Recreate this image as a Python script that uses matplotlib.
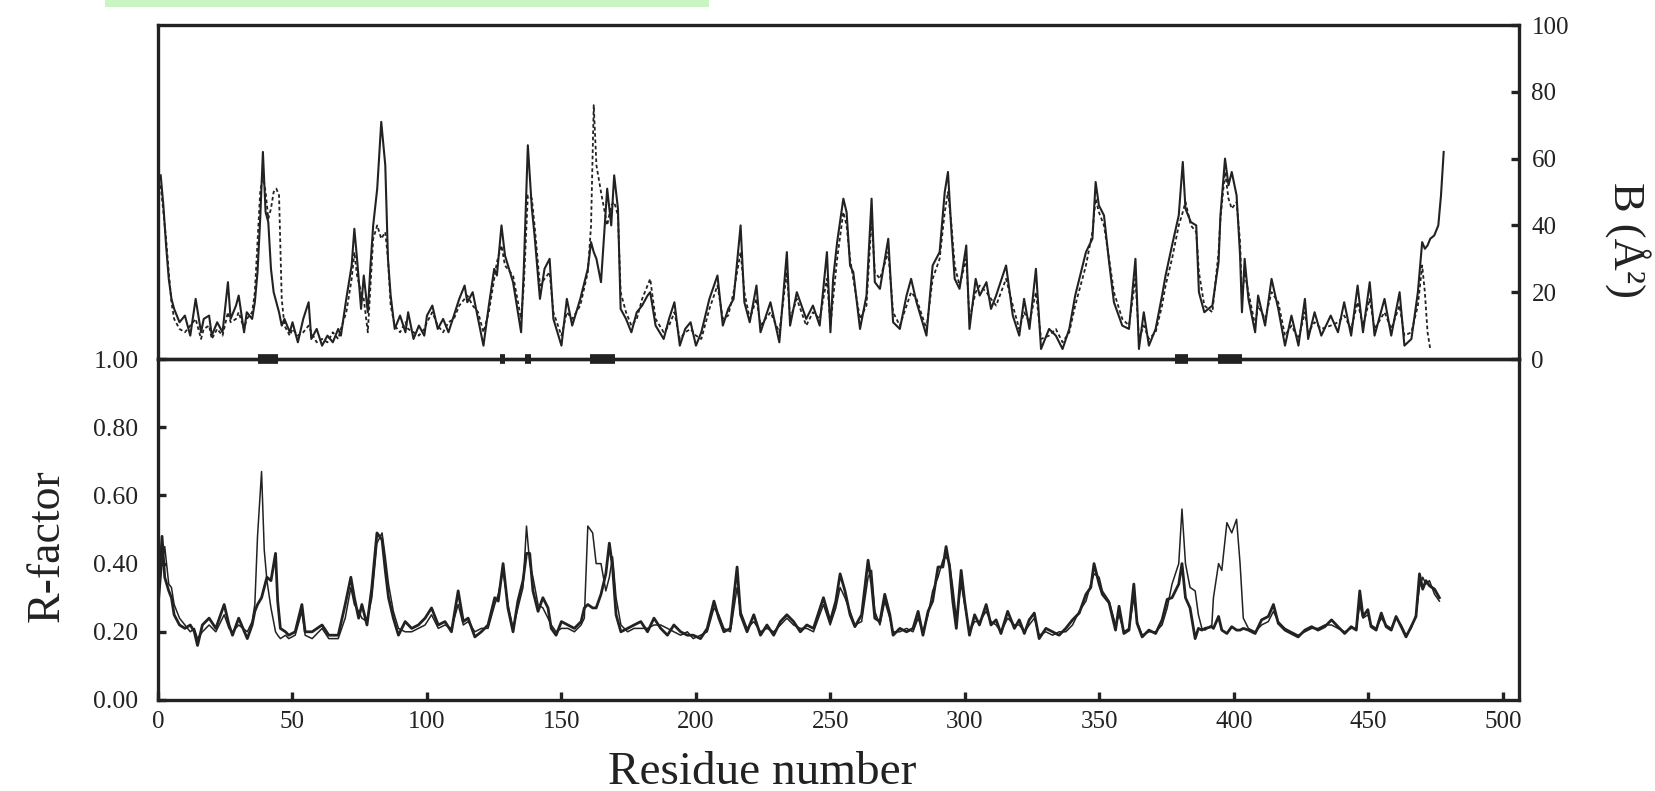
import matplotlib
matplotlib.use("Agg")
import matplotlib.pyplot as plt
from matplotlib.patches import Rectangle

# ---------------- data ----------------
# Upper panel: B-factor (Å^2) vs residue, two series (solid, dotted)
b_res = [1, 2, 3, 4, 5, 6, 8, 10, 12, 14, 16, 17, 19, 20, 22, 24, 26, 27, 29, 30,
         32, 33, 35, 36, 37, 38, 39, 40, 41, 42, 43, 44, 45, 46, 47, 49, 50, 52, 54, 56,
         57, 59, 61, 63, 65, 67, 68, 70, 72, 73, 74, 75.5, 76.5, 78, 79, 80, 81.5, 83, 84.5, 85.5,
         86.5, 88, 90, 92, 93, 95, 97, 99, 100, 102, 104, 106, 108, 110, 112, 114, 115, 117, 119, 121,
         123, 125, 126, 127.7, 129, 132, 135, 136, 137.5, 139, 140, 142, 143.7, 145.6, 147, 150, 152, 154, 157, 159.8,
         161, 162, 163, 164.7, 167, 168.5, 169.6, 171, 172, 174, 176, 178, 180, 182, 183, 185, 188, 190, 192, 194,
         196, 198, 200, 202, 205, 208, 210, 212, 214, 216.6, 218, 220, 222.5, 224, 227.7, 231, 233.8, 235, 237.5, 241,
         243.5, 246, 248.7, 250, 251, 252.5, 254.8, 256, 257.3, 258.5, 261, 263.4, 265.3, 266.5, 268.4, 271.5, 273.3, 275.8, 278.3, 280,
         282, 285.7, 288, 290.6, 292.5, 293.7, 295, 296.2, 298, 300.5, 301.7, 304, 305.5, 308, 309.7, 311.6, 315.3, 317.8, 320.2, 322,
         324, 326.4, 328.3, 331.3, 333.8, 336.3, 338.8, 341, 345, 347.4, 348.6, 349.8, 351.7, 353.6, 355.4, 358.5, 361, 363.4, 364.7, 366.5,
         368.4, 370.9, 373.3, 374.6, 377, 379.5, 381, 382, 384, 386, 387, 389, 392, 394.3, 395, 396.7, 398, 399.2, 401, 402.3,
         403, 404, 405.4, 407.9, 409, 411.6, 414, 416.5, 419, 421.4, 424, 426.4, 427.6, 430, 432.5, 436, 438.7, 441, 443.6, 446,
         448, 450.5, 452.3, 456, 458.5, 461.6, 463.4, 466, 468.4, 470, 471, 472, 473, 474.5, 476, 477, 478]

b_solid = [55, 46, 34, 24, 18, 15, 11, 13, 7, 18, 8, 12, 13, 7, 11, 8, 23, 12, 16, 19,
           8, 14, 12, 17, 26, 42, 62, 44, 41, 27, 20, 17, 14, 10, 12, 8, 11, 5, 12, 17,
           6, 9, 4, 7, 5, 9, 7, 18, 28, 39, 30, 15, 25, 14, 28, 40, 51, 71, 58, 30,
           19, 9, 13, 8, 14, 6, 10, 7, 13, 16, 9, 12, 8, 13, 18, 22, 17, 20, 12, 4,
           16, 27, 25, 40, 31, 23, 8, 27, 64, 45, 37, 18, 27, 30, 12, 4, 18, 10, 18, 27,
           35, 32, 30, 23, 51, 40, 55, 45, 15, 12, 8, 14, 16, 19, 20, 10, 6, 12, 17, 4,
           9, 11, 4, 8, 18, 25, 10, 15, 18, 40, 17, 11, 22, 8, 17, 5, 32, 10, 20, 12,
           16, 10, 32, 8, 24, 35, 48, 44, 28, 26, 9, 19, 48, 23, 21, 36, 11, 9, 19, 24,
           17, 7, 28, 32, 50, 56, 38, 24, 21, 34, 9, 24, 19, 23, 15, 19, 28, 13, 7, 18,
           9, 27, 3, 9, 7, 3, 9, 19, 32, 36, 53, 46, 43, 29, 17, 10, 9, 30, 3, 14,
           4, 9, 19, 25, 34, 43, 59, 45, 41, 40, 20, 14, 16, 29, 43, 60, 52, 56, 49, 31,
           14, 30, 18, 8, 19, 10, 24, 15, 4, 13, 4, 18, 6, 14, 7, 13, 8, 17, 7, 22,
           8, 23, 7, 18, 7, 20, 4, 6, 20, 35, 33, 34, 36, 37, 40, 49, 62]

b_dotted = [52, 44, 36, 26, 17, 12, 9, 8, 10, 12, 6, 9, 10, 6, 9, 7, 14, 11, 12, 14,
            9, 12, 14, 20, 35, 50, 55, 50, 42, 45, 50, 51, 49, 18, 10, 7, 9, 7, 8, 10,
            8, 5, 6, 5, 8, 6, 9, 14, 24, 32, 25, 20, 18, 8, 22, 36, 40, 36, 38, 30,
            16, 10, 8, 11, 9, 8, 7, 9, 11, 14, 10, 8, 11, 12, 16, 18, 19, 16, 14, 8,
            14, 24, 29, 34, 28, 25, 12, 22, 49, 48, 40, 22, 24, 26, 14, 7, 14, 12, 16, 26,
            40, 76, 58, 50, 40, 46, 47, 43, 20, 14, 10, 12, 18, 22, 24, 12, 8, 10, 14, 6,
            8, 9, 7, 6, 15, 22, 12, 13, 20, 32, 20, 12, 18, 10, 14, 8, 26, 12, 18, 10,
            14, 12, 24, 10, 18, 30, 44, 40, 30, 24, 12, 16, 42, 26, 24, 32, 14, 10, 16, 20,
            18, 9, 24, 30, 44, 50, 40, 28, 22, 30, 12, 20, 22, 20, 18, 16, 24, 16, 9, 14,
            11, 20, 6, 7, 9, 5, 8, 16, 28, 38, 48, 44, 40, 30, 20, 12, 10, 24, 6, 10,
            6, 8, 16, 22, 30, 40, 44, 47, 40, 38, 26, 16, 14, 32, 42, 56, 48, 45, 47, 35,
            18, 26, 20, 10, 16, 12, 20, 17, 7, 10, 6, 14, 8, 11, 9, 10, 11, 13, 9, 17,
            10, 18, 9, 14, 9, 16, 7, 8, 16, 28, 20, 8, 3]

# Lower panel: R-factor vs residue, two series (heavy, light)
r_res = [0.5, 1.5, 2.5, 4, 5, 6, 8, 10, 12, 13.5, 14.7, 16.5, 19, 21.5, 24.6, 26.4, 27.7, 30, 33.2, 35,
         36, 37, 38.5, 39.5, 40.5, 42, 43.7, 44.5, 45.5, 47.4, 48.6, 51, 53.5, 54.7, 57.3, 61, 63.5, 67, 69.6, 71.7,
         73, 74.6, 75.8, 77.7, 79.5, 81.4, 83.3, 84.5, 85.7, 87.5, 89.4, 91.9, 94.3, 96.8, 99.3, 101.7, 104.2, 106.7, 109.1, 111.6,
         113.5, 115.3, 117.8, 120.2, 122.7, 125.2, 126.5, 128.3, 130.1, 132, 133.8, 135.7, 137, 138.2, 139.4, 141.3, 143.1, 145, 146.2, 148,
         150, 152.4, 154.8, 157.3, 158.5, 159.8, 161.6, 162.9, 164.7, 166.5, 167.8, 169, 170.3, 172.1, 174.6, 177, 179.5, 182, 184.4, 186.9,
         189.4, 191.8, 194.3, 196.8, 199, 201.7, 204.2, 206.7, 208.5, 210.4, 212.8, 215.3, 216.6, 219, 221.5, 224, 226.4, 228.9, 231.4, 233.8,
         236.3, 238.8, 241.2, 243.7, 247.4, 249.9, 252, 253.6, 255.4, 257.3, 259.1, 261.6, 264, 265.3, 266.5, 268.4, 270.2, 272.1, 273.3, 275.8,
         278.3, 280.7, 282.6, 284.4, 286.3, 288, 290, 291.8, 293, 294.3, 295.5, 296.8, 298.6, 299.9, 301.7, 303.6, 305.4, 307.9, 309.7, 311.6,
         313.4, 315.9, 318.4, 320.2, 322.1, 323.9, 325.8, 327.6, 330.1, 332.6, 335, 337.5, 340, 342.5, 345, 346.8, 348, 349.9, 351.1, 353.6,
         356, 357.3, 359.1, 361, 362.8, 364, 365.9, 368.4, 370.9, 373.3, 375.2, 377, 379.5, 380.7, 382, 383.7, 385.6, 386.8, 388.1, 389.3,
         391.8, 392.4, 394.3, 395.5, 397.4, 399.2, 401, 402.3, 403.5, 405.4, 407.9, 410.3, 412.8, 414.7, 416.5, 419, 421.4, 423.9, 426.4, 428.9,
         431.3, 433.8, 436.3, 438.7, 441.2, 443.6, 445.5, 446.8, 448, 449.8, 451, 452.9, 454.8, 456.6, 458.5, 460.3, 462.2, 464, 465.9, 467.7,
         469, 470.2, 471.4, 472.7, 474.6, 476.4]

r_heavy = [0.35, 0.48, 0.36, 0.32, 0.30, 0.25, 0.22, 0.21, 0.22, 0.20, 0.16, 0.22, 0.24, 0.21, 0.28, 0.22, 0.19, 0.24, 0.18, 0.22,
           0.26, 0.28, 0.30, 0.33, 0.36, 0.35, 0.43, 0.29, 0.21, 0.20, 0.19, 0.20, 0.28, 0.20, 0.20, 0.22, 0.19, 0.19, 0.28, 0.36,
           0.30, 0.24, 0.28, 0.22, 0.33, 0.49, 0.47, 0.38, 0.30, 0.24, 0.19, 0.23, 0.21, 0.22, 0.24, 0.27, 0.22, 0.23, 0.20, 0.32,
           0.23, 0.24, 0.185, 0.20, 0.22, 0.30, 0.29, 0.40, 0.27, 0.20, 0.29, 0.35, 0.43, 0.43, 0.32, 0.26, 0.30, 0.27, 0.21, 0.19,
           0.23, 0.22, 0.21, 0.23, 0.27, 0.28, 0.27, 0.27, 0.31, 0.37, 0.46, 0.39, 0.25, 0.20, 0.21, 0.22, 0.23, 0.20, 0.24, 0.21,
           0.19, 0.22, 0.20, 0.19, 0.19, 0.18, 0.21, 0.29, 0.24, 0.20, 0.21, 0.39, 0.25, 0.20, 0.25, 0.19, 0.22, 0.19, 0.23, 0.25,
           0.23, 0.20, 0.22, 0.21, 0.30, 0.23, 0.29, 0.37, 0.32, 0.25, 0.215, 0.25, 0.41, 0.34, 0.24, 0.23, 0.31, 0.25, 0.19, 0.21,
           0.20, 0.21, 0.26, 0.19, 0.26, 0.29, 0.39, 0.39, 0.45, 0.39, 0.29, 0.21, 0.38, 0.29, 0.19, 0.25, 0.22, 0.28, 0.22, 0.235,
           0.195, 0.26, 0.21, 0.235, 0.195, 0.235, 0.255, 0.18, 0.21, 0.20, 0.19, 0.21, 0.235, 0.255, 0.31, 0.33, 0.40, 0.34, 0.31, 0.285,
           0.205, 0.275, 0.195, 0.205, 0.34, 0.225, 0.185, 0.205, 0.195, 0.235, 0.295, 0.30, 0.34, 0.40, 0.30, 0.27, 0.18, 0.21, 0.205, 0.21,
           0.215, 0.21, 0.245, 0.205, 0.195, 0.215, 0.205, 0.205, 0.21, 0.205, 0.195, 0.235, 0.245, 0.28, 0.225, 0.205, 0.195, 0.185, 0.205, 0.215,
           0.205, 0.215, 0.235, 0.215, 0.195, 0.215, 0.205, 0.32, 0.245, 0.265, 0.215, 0.205, 0.255, 0.215, 0.205, 0.245, 0.215, 0.185, 0.215, 0.245,
           0.37, 0.325, 0.35, 0.335, 0.325, 0.30]

r_light = [0.30, 0.40, 0.45, 0.34, 0.33, 0.28, 0.24, 0.22, 0.20, 0.21, 0.18, 0.20, 0.22, 0.20, 0.25, 0.21, 0.20, 0.22, 0.20, 0.23,
           0.28, 0.48, 0.67, 0.44, 0.35, 0.27, 0.20, 0.19, 0.18, 0.19, 0.18, 0.19, 0.26, 0.19, 0.18, 0.21, 0.18, 0.18, 0.24, 0.33,
           0.28, 0.26, 0.24, 0.23, 0.30, 0.46, 0.49, 0.42, 0.34, 0.26, 0.21, 0.20, 0.20, 0.21, 0.22, 0.25, 0.21, 0.22, 0.21, 0.28,
           0.22, 0.23, 0.20, 0.21, 0.21, 0.28, 0.31, 0.38, 0.28, 0.21, 0.27, 0.33, 0.51, 0.40, 0.36, 0.28, 0.27, 0.24, 0.22, 0.20,
           0.21, 0.21, 0.20, 0.22, 0.24, 0.51, 0.49, 0.40, 0.40, 0.32, 0.36, 0.42, 0.30, 0.22, 0.20, 0.21, 0.21, 0.21, 0.22, 0.22,
           0.21, 0.20, 0.19, 0.20, 0.18, 0.19, 0.20, 0.27, 0.25, 0.21, 0.20, 0.33, 0.26, 0.21, 0.23, 0.20, 0.21, 0.20, 0.22, 0.24,
           0.22, 0.21, 0.21, 0.20, 0.28, 0.22, 0.27, 0.33, 0.30, 0.26, 0.22, 0.23, 0.36, 0.38, 0.26, 0.22, 0.29, 0.24, 0.20, 0.20,
           0.21, 0.20, 0.24, 0.20, 0.25, 0.32, 0.36, 0.41, 0.42, 0.40, 0.33, 0.24, 0.34, 0.28, 0.20, 0.23, 0.23, 0.26, 0.23, 0.22,
           0.20, 0.24, 0.22, 0.22, 0.20, 0.22, 0.24, 0.19, 0.20, 0.19, 0.20, 0.20, 0.22, 0.26, 0.29, 0.34, 0.37, 0.36, 0.32, 0.29,
           0.22, 0.25, 0.20, 0.21, 0.30, 0.23, 0.19, 0.20, 0.20, 0.22, 0.27, 0.34, 0.40, 0.56, 0.40, 0.33, 0.32, 0.25, 0.21, 0.205,
           0.22, 0.30, 0.40, 0.38, 0.52, 0.49, 0.53, 0.40, 0.24, 0.21, 0.20, 0.22, 0.23, 0.26, 0.23, 0.21, 0.20, 0.19, 0.20, 0.21,
           0.21, 0.22, 0.22, 0.21, 0.20, 0.21, 0.21, 0.28, 0.24, 0.25, 0.22, 0.21, 0.24, 0.22, 0.21, 0.24, 0.22, 0.19, 0.21, 0.25,
           0.33, 0.36, 0.34, 0.35, 0.31, 0.29]

# Secondary-structure blocks drawn on the shared middle axis (residue ranges)
block_start = [37, 127, 136.5, 160.5, 378, 394]
block_end = [44.5, 129, 138.5, 170, 383, 403]

b_ticks = [0, 20, 40, 60, 80, 100]
r_ticks = [0.0, 0.2, 0.4, 0.6, 0.8, 1.0]
x_ticks = [0, 50, 100, 150, 200, 250, 300, 350, 400, 450, 500]

# ---------------- figure ----------------
plt.rcParams['font.family'] = ['Liberation Serif', 'DejaVu Serif']
INK = '#222222'

W_PX, H_PX = 1655, 791
fig = plt.figure(figsize=(W_PX / 100, H_PX / 100), dpi=100)
fig.patch.set_facecolor('white')

left_px, right_px = 158, 1519
top_px, mid_px, bot_px = 25, 359, 700
L = left_px / W_PX
Wd = (right_px - left_px) / W_PX
ax_b = fig.add_axes([L, 1 - mid_px / H_PX, Wd, (mid_px - top_px) / H_PX])
ax_r = fig.add_axes([L, 1 - bot_px / H_PX, Wd, (bot_px - mid_px) / H_PX])

XMAX = 506
for ax in (ax_b, ax_r):
    ax.set_xlim(0, XMAX)
    ax.set_facecolor('none')
    for s in ax.spines.values():
        s.set_linewidth(2.4)
        s.set_color(INK)

# upper panel
ax_b.plot(b_res[:len(b_dotted)], b_dotted, color=INK, lw=1.3, ls=(0, (2.0, 1.5)))
ax_b.plot(b_res, b_solid, color=INK, lw=1.5)
ax_b.set_ylim(0, 100)
ax_b.set_xticks([])
ax_b.yaxis.tick_right()
ax_b.set_yticks(b_ticks)
ax_b.set_yticklabels([str(t) for t in b_ticks])
ax_b.tick_params(axis='y', direction='in', length=6, width=2.4, labelsize=18,
                 pad=9, colors=INK, right=True, left=False)
for a, b in zip(block_start, block_end):
    ax_b.plot([a, b], [0, 0], color=INK, lw=7, solid_capstyle='butt', clip_on=False)

# lower panel
ax_r.plot(r_res, r_light, color=INK, lw=1.1)
ax_r.plot(r_res, r_heavy, color=INK, lw=2.0)
ax_r.set_ylim(0, 1.0)
ax_r.set_yticks(r_ticks)
ax_r.set_yticklabels([f"{t:.2f}" for t in r_ticks])
ax_r.set_xticks(x_ticks)
ax_r.set_xticklabels([str(t) for t in x_ticks])
ax_r.tick_params(axis='y', direction='in', length=6, width=2.4, labelsize=18.5,
                 pad=14, colors=INK, left=True, right=False)
ax_r.tick_params(axis='x', direction='in', length=6, width=2.4, labelsize=18,
                 pad=8, colors=INK, bottom=True, top=False)

# axis titles
fig.text(47 / W_PX, 1 - 546 / H_PX, 'R-factor', rotation=90, ha='center', va='center',
         fontsize=33, color=INK)
fig.text(762 / W_PX, 1 - 773 / H_PX, 'Residue number', ha='center', va='center',
         fontsize=34, color=INK)
fig.text(1627 / W_PX, 1 - 240 / H_PX, 'B (Å²)', rotation=270, ha='center', va='center',
         fontsize=32, color=INK)

# light green highlight strip at the top edge of the scan
fig.patches.append(Rectangle((105 / W_PX, 1 - 7 / H_PX), (709 - 105) / W_PX, 7 / H_PX,
                             transform=fig.transFigure, facecolor='#c8f5c2',
                             edgecolor='none', zorder=0))

fig.savefig('out.png', dpi=100, facecolor='white')
